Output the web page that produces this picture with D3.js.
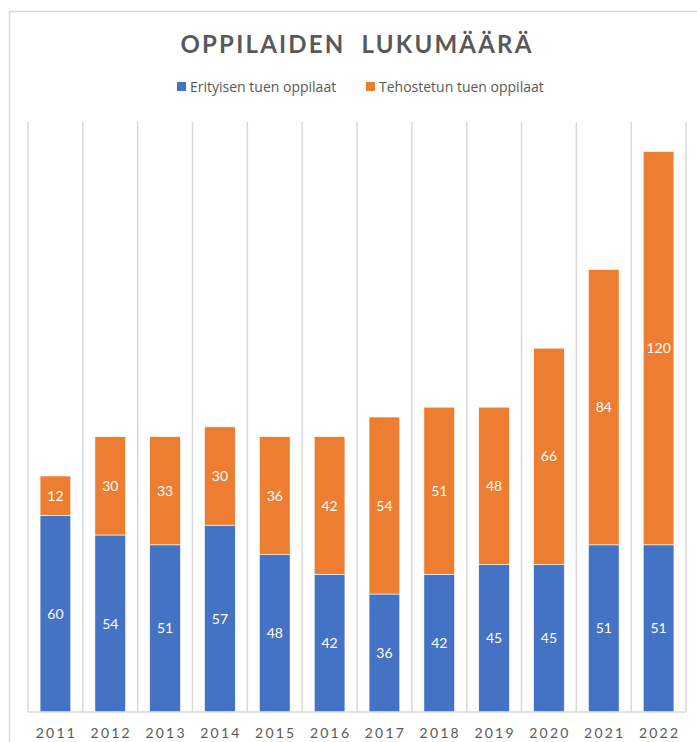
<!DOCTYPE html>
<html><head><meta charset="utf-8">
<script src="https://cdn.jsdelivr.net/npm/d3@7"></script>
<style>body{margin:0;background:#fff;} svg{display:block;}</style>
</head><body>
<svg id="c" width="697" height="742"></svg>
<script>
const years = ["2011","2012","2013","2014","2015","2016","2017","2018","2019","2020","2021","2022"];
const erityinen = [60,54,51,57,48,42,36,42,45,45,51,51];
const tehostettu = [12,30,33,30,36,42,54,51,48,66,84,120];
const seriesNames = ["Erityisen tuen oppilaat","Tehostetun tuen oppilaat"];
const colors = ["#4472C4","#ED7D31"];
const yMax = 180;

const svg = d3.select("#c");
const font = "Lato, 'Open Sans', sans-serif";
const font2 = "'Open Sans', Lato, sans-serif";
// outer frame
svg.append("path").attr("d","M9.5,742 V11.5 H697").attr("fill","none").attr("stroke","#d9d9d9").attr("stroke-width",1.5);

const x = d3.scaleBand().domain(years).range([28,686]).paddingInner(0.44).paddingOuter(0.22);
const y = d3.scaleLinear().domain([0,yMax]).range([712,122]);

// category separator gridlines
const step = x.step();
const seps = d3.range(years.length+1).map(i => 28 + i*step);
svg.append("g").selectAll("line").data(seps).join("line")
  .attr("x1",d=>d).attr("x2",d=>d).attr("y1",y(yMax)).attr("y2",y(0))
  .attr("stroke","#d9d9d9").attr("stroke-width",1.5);

const data = years.map((yr,i)=>({year:yr, a:erityinen[i], b:tehostettu[i]}));
const stack = d3.stack().keys(["a","b"])(data);

const g = svg.append("g");
stack.forEach((layer,li)=>{
  g.append("g").selectAll("rect").data(layer).join("rect")
    .attr("x",d=>x(d.data.year)).attr("width",x.bandwidth())
    .attr("y",d=>y(d[1])).attr("height",d=>y(d[0])-y(d[1]))
    .attr("fill",colors[li]).attr("stroke","#fff").attr("stroke-width",0.6);
  g.append("g").selectAll("text").data(layer).join("text")
    .attr("x",d=>x(d.data.year)+x.bandwidth()/2)
    .attr("y",d=>(y(d[0])+y(d[1]))/2+5)
    .attr("text-anchor","middle").attr("fill","#fff")
    .attr("font-family",font).attr("font-size",14)
    .text(d=>d[1]-d[0]);
});

// x axis
const xAxis = d3.axisBottom(x).tickSize(0).tickPadding(16);
const ax = svg.append("g").attr("transform",`translate(0,${y(0)})`).call(xAxis);
ax.select(".domain").attr("stroke","#d9d9d9").attr("stroke-width",1.5).attr("d",`M28,0H686`);
ax.selectAll("text").attr("font-family",font).attr("font-size",14).attr("fill","#595959")
  .attr("letter-spacing","2.2px").attr("dx","1px");

// title
svg.append("text").attr("x",357).attr("y",53).attr("text-anchor","middle")
  .attr("font-family",font).attr("font-weight","bold").attr("font-size",24)
  .attr("letter-spacing","2.2px").attr("fill","#595959").attr("xml:space","preserve").text("OPPILAIDEN  LUKUMÄÄRÄ");

// legend
const leg = [{x:177,name:seriesNames[0],c:colors[0]},{x:366,name:seriesNames[1],c:colors[1]}];
const lg = svg.append("g");
leg.forEach(l=>{
  lg.append("rect").attr("x",l.x).attr("y",82).attr("width",9).attr("height",9).attr("fill",l.c);
  lg.append("text").attr("x",l.x+13).attr("y",92).attr("font-family",font2).attr("font-size",14)
    .attr("fill","#595959").text(l.name);
});
</script>
</body></html>
